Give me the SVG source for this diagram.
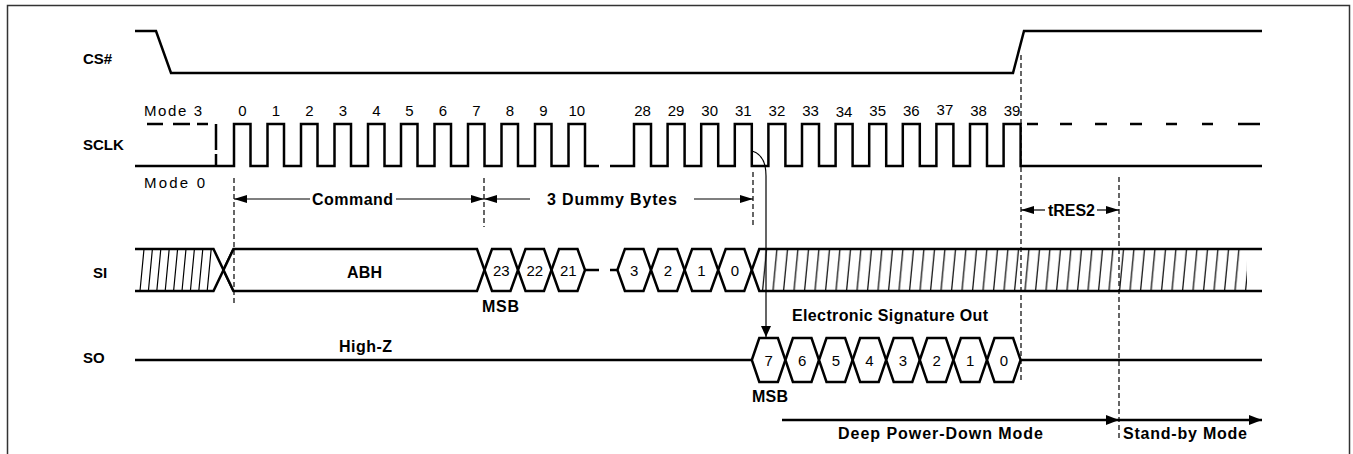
<svg xmlns="http://www.w3.org/2000/svg" width="1353" height="454" viewBox="0 0 1353 454">
<style>
.sig{fill:none;stroke:#000;stroke-width:2.5;stroke-linejoin:miter}
.hex{fill:#fff;stroke:#000;stroke-width:2.5;stroke-linejoin:miter}
.thin{fill:none;stroke:#000;stroke-width:1.2}
.dash{fill:none;stroke:#000;stroke-width:1.2;stroke-dasharray:5 3}
.lbl{font-family:"Liberation Sans",Arial,sans-serif;font-size:15px;font-weight:bold;fill:#000}
.ann{font-family:"Liberation Sans",Arial,sans-serif;font-size:16px;font-weight:bold;fill:#000}
.num{font-family:"Liberation Sans",Arial,sans-serif;font-size:15px;fill:#000;text-anchor:middle}
.reg{font-family:"Liberation Sans",Arial,sans-serif;font-size:15px;fill:#000}
</style>
<defs>
<marker id="ah" markerUnits="userSpaceOnUse" markerWidth="13" markerHeight="8" viewBox="0 0 13 8" refX="13" refY="4" orient="auto-start-reverse"><path d="M0,0 L13,4 L0,8 z" fill="#000"/></marker>
<marker id="ahc" markerUnits="userSpaceOnUse" markerWidth="11" markerHeight="10" viewBox="0 0 11 10" refX="11" refY="5" orient="auto"><path d="M0,0 L11,5 L0,10 z" fill="#000"/></marker>
<marker id="ahb" markerUnits="userSpaceOnUse" markerWidth="13" markerHeight="10" viewBox="0 0 13 10" refX="13" refY="5" orient="auto"><path d="M0,0 L13,5 L0,10 z" fill="#000"/></marker>
<pattern id="hatch" patternUnits="userSpaceOnUse" x="761" y="249" width="10.5" height="42"><line x1="1.5" y1="42" x2="5.5" y2="0" stroke="#000" stroke-width="1.2"/></pattern>
</defs>
<rect x="7.5" y="5.5" width="1342" height="460" fill="#fff" stroke="#333" stroke-width="1.5"/>

<g id="cs">
<text class="lbl" x="83" y="64">CS#</text>
<polyline class="sig" points="135,31 156,31 171,73 1013,73 1024,31 1262,31"/>
</g>

<g id="sclk">
<text class="lbl" x="83" y="150">SCLK</text>
<text class="reg" x="144" y="116" textLength="58" lengthAdjust="spacing">Mode 3</text>
<text class="reg" x="144" y="188" textLength="61" lengthAdjust="spacing">Mode 0</text>
<path class="sig" d="M135,166H234V124H250.5V166H267.5V124H284V166H301V124H317.5V166H334.5V124H351V166H368V124H384.5V166H401V124H417.5V166H434.5V124H451V166H468V124H484.5V166H501.5V124H518V166H535V124H551.5V166H568.5V124H585V166H599"/>
<path class="sig" d="M610,166H634V124H651V166H667.6V124H684.6V166H701.2V124H718.2V166H734.8V124H751.8V166H768.4V124H785.4V166H802V124H819V166H835.6V124H852.6V166H869.2V124H886.2V166H902.8V124H919.8V166H936.4V124H953.4V166H970V124H987V166H1003.6V124H1020.6V166H1262"/>
<path class="sig" d="M147,124H163M173,124H190M197,124H208"/>
<path class="sig" d="M216,124V166" stroke-dasharray="26 4"/>
<path class="sig" d="M1027,124H1038M1060,124H1072M1095,124H1107M1130,124H1142M1166,124H1177M1202,124H1213M1238,124H1260"/>
<g class="num">
<text x="242.3" y="116">0</text><text x="275.8" y="116">1</text><text x="309.3" y="116">2</text><text x="342.8" y="116">3</text><text x="376.3" y="116">4</text><text x="409.3" y="116">5</text><text x="442.8" y="116">6</text><text x="476.3" y="116">7</text><text x="509.8" y="116">8</text><text x="543.3" y="116">9</text><text x="576.8" y="116">10</text>
<text x="642.5" y="116">28</text><text x="676.1" y="116">29</text><text x="709.7" y="116">30</text><text x="743.3" y="116">31</text><text x="776.9" y="116">32</text><text x="810.5" y="116">33</text><text x="844.1" y="117">34</text><text x="877.7" y="116">35</text><text x="911.3" y="116">36</text><text x="944.9" y="115">37</text><text x="978.5" y="116">38</text><text x="1012.1" y="116">39</text>
</g>
</g>

<g id="si">
<text class="lbl" x="93" y="278">SI</text>
<path class="thin" d="M140,291L144,249M148.4,291L152.4,249M156.8,291L160.8,249M165.2,291L169.2,249M173.6,291L177.6,249M182,291L186,249M190.4,291L194.4,249M198.8,291L202.8,249M207.2,291L211.2,249"/>
<polyline class="sig" points="135,249 213.5,249 233.5,291"/>
<polyline class="sig" points="135,291 213.5,291 233.5,249"/>
<polygon class="hex" points="223.5,270 233.5,249 477,249 484.5,270 477,291 233.5,291"/>
<text class="ann" x="347" y="278" textLength="35" lengthAdjust="spacing">ABH</text>
<polygon class="hex" points="484.5,270 492,249 510.5,249 518,270 510.5,291 492,291"/>
<polygon class="hex" points="518,270 525.5,249 544,249 551.5,270 544,291 525.5,291"/>
<polygon class="hex" points="551.5,270 559,249 577.5,249 585,270 577.5,291 559,291"/>
<path class="sig" d="M585,270H599M610,270H617.4"/>
<polygon class="hex" points="617.4,270 624.9,249 643.5,249 651,270 643.5,291 624.9,291"/>
<polygon class="hex" points="651,270 658.5,249 677.1,249 684.6,270 677.1,291 658.5,291"/>
<polygon class="hex" points="684.6,270 692.1,249 710.7,249 718.2,270 710.7,291 692.1,291"/>
<polygon class="hex" points="718.2,270 725.7,249 744.3,249 751.8,270 744.3,291 725.7,291"/>
<rect x="761" y="249" width="486" height="42" fill="url(#hatch)"/>
<polyline class="sig" points="1262,249 759.3,249 751.8,270 759.3,291 1262,291"/>
<g class="num">
<text x="501.3" y="275.5">23</text><text x="534.8" y="275.5">22</text><text x="568.3" y="275.5">21</text>
<text x="634.2" y="275.5">3</text><text x="667.8" y="275.5">2</text><text x="701.4" y="275.5">1</text><text x="735" y="275.5">0</text>
</g>
<text class="ann" x="482" y="312" textLength="37" lengthAdjust="spacing">MSB</text>
</g>

<g id="so">
<text class="lbl" x="83" y="363">SO</text>
<text class="ann" x="339" y="352" textLength="53" lengthAdjust="spacing">High-Z</text>
<path class="sig" d="M135,360H751.8M1020.6,360H1262"/>
<polygon class="hex" points="751.8,360 759.3,338 777.9,338 785.4,360 777.9,382 759.3,382"/>
<polygon class="hex" points="785.4,360 792.9,338 811.5,338 819,360 811.5,382 792.9,382"/>
<polygon class="hex" points="819,360 826.5,338 845.1,338 852.6,360 845.1,382 826.5,382"/>
<polygon class="hex" points="852.6,360 860.1,338 878.7,338 886.2,360 878.7,382 860.1,382"/>
<polygon class="hex" points="886.2,360 893.7,338 912.3,338 919.8,360 912.3,382 893.7,382"/>
<polygon class="hex" points="919.8,360 927.3,338 945.9,338 953.4,360 945.9,382 927.3,382"/>
<polygon class="hex" points="953.4,360 960.9,338 979.5,338 987,360 979.5,382 960.9,382"/>
<polygon class="hex" points="987,360 994.5,338 1013.1,338 1020.6,360 1013.1,382 994.5,382"/>
<g class="num">
<text x="768.6" y="366">7</text><text x="802.2" y="366">6</text><text x="835.8" y="366">5</text><text x="869.4" y="366">4</text><text x="903" y="366">3</text><text x="936.6" y="366">2</text><text x="970.2" y="366">1</text><text x="1003.8" y="366">0</text>
</g>
<text class="ann" x="752" y="402" textLength="36" lengthAdjust="spacing">MSB</text>
<text class="ann" x="792" y="321" textLength="196" lengthAdjust="spacing">Electronic Signature Out</text>
</g>

<g id="connectors">
<path class="dash" d="M234,178V305"/>
<path class="dash" d="M484,178V227"/>
<path class="dash" d="M753,172V227"/>
<path class="dash" d="M1021,55V383"/>
<path class="dash" d="M1119,177V440"/>
<path class="thin" d="M234,199H310" marker-start="url(#ah)"/>
<path class="thin" d="M396,199H484" marker-end="url(#ah)"/>
<text class="ann" x="312" y="204.5" textLength="81" lengthAdjust="spacing">Command</text>
<path class="thin" d="M484,199H530" marker-start="url(#ah)"/>
<path class="thin" d="M694,199H753" marker-end="url(#ah)"/>
<text class="ann" x="547" y="204.5" textLength="130" lengthAdjust="spacing">3 Dummy Bytes</text>
<path class="thin" d="M1021,210H1045" marker-start="url(#ah)"/>
<path class="thin" d="M1097,210H1119" marker-end="url(#ah)"/>
<text class="ann" x="1048" y="215.5" textLength="47" lengthAdjust="spacing">tRES2</text>
<path class="thin" d="M752,151Q766,155 766,176V337" stroke-width="1.4" marker-end="url(#ahc)"/>
<path class="sig" d="M782,420H1119" marker-end="url(#ahb)"/>
<path class="sig" d="M1119,420H1262" marker-end="url(#ahb)"/>
<text class="ann" x="838" y="438.5" textLength="205" lengthAdjust="spacing">Deep Power-Down Mode</text>
<text class="ann" x="1123" y="438.5" textLength="124" lengthAdjust="spacing">Stand-by Mode</text>
</g>
</svg>
